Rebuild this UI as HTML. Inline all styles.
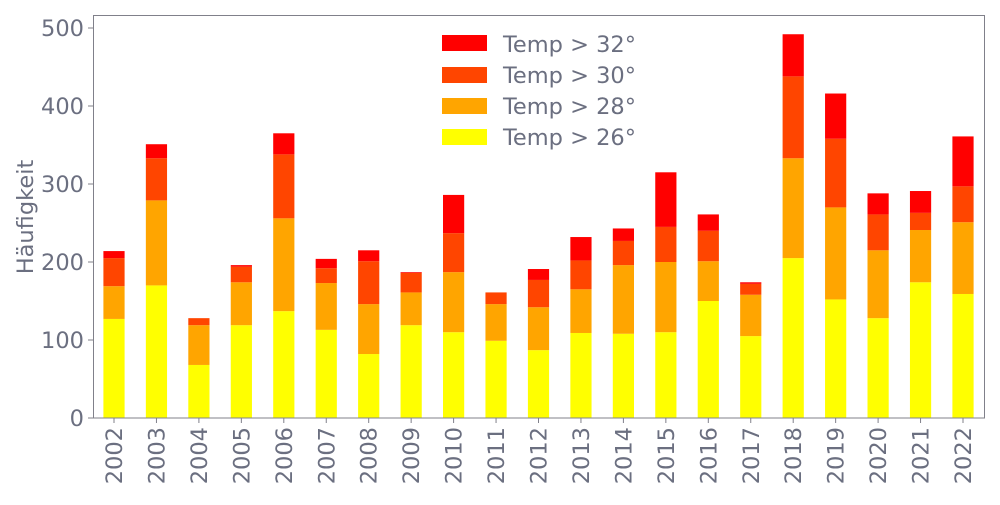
<!DOCTYPE html>
<html><head><meta charset="utf-8"><style>
body{margin:0;background:#fff}
svg text{font-family:"DejaVu Sans","Liberation Sans",sans-serif;fill:#6b6f80}
</style></head><body>
<svg width="1000" height="500" viewBox="0 0 1000 500" xmlns="http://www.w3.org/2000/svg">
<g id="bars"></g>
<rect x="93.5" y="15.5" width="891" height="402.5" fill="none" stroke="#80808a" stroke-width="1"/>
<g id="ax" font-size="22.5"></g>
<text transform="translate(33,217) rotate(-90)" text-anchor="middle" font-size="22.5">Häufigkeit</text>
<g font-size="22.5">
<rect x="442" y="35" width="45" height="16" fill="#ff0000"/><text x="503" y="52">Temp &gt; 32°</text>
<rect x="442" y="67" width="45" height="16" fill="#ff4500"/><text x="503" y="83">Temp &gt; 30°</text>
<rect x="442" y="98" width="45" height="16" fill="#ffa500"/><text x="503" y="114">Temp &gt; 28°</text>
<rect x="442" y="129" width="45" height="16" fill="#ffff00"/><text x="503" y="145">Temp &gt; 26°</text>
</g>
<script>
var d=[[127,169,205,214],[170,279,333,351],[68,119,128,128],[119,174,194,196],[137,256,338,365],[113,173,192,204],[82,146,201,215],[119,161,186,187],[110,187,237,286],[99,146,161,161],[87,142,177,191],[109,165,202,232],[108,196,227,243],[110,200,245,315],[150,201,240,261],[105,158,172,174],[205,333,438,492],[152,270,358,416],[128,215,261,288],[174,241,263,291],[159,251,297,361]];
var c=["#ffff00","#ffa500","#ff4500","#ff0000"],ns="http://www.w3.org/2000/svg";
var g=document.getElementById("bars"),ax=document.getElementById("ax");
function Y(v){return 418-v*0.78}
function el(t,a,p,txt){var e=document.createElementNS(ns,t);for(var k in a)e.setAttribute(k,a[k]);if(txt!=null)e.textContent=txt;p.appendChild(e);return e}
d.forEach(function(r,i){var cx=114+i*42.45,prev=0;
r.forEach(function(v,j){el("rect",{x:cx-10.6,y:Y(v),width:21.2,height:Y(prev)-Y(v),fill:c[j]},g);prev=v;});
el("line",{x1:cx,x2:cx,y1:418,y2:423,stroke:"#80808a"},ax);
el("text",{transform:"translate("+(cx+8)+",427) rotate(-90)","text-anchor":"end"},ax,String(2002+i));
});
for(var v=0;v<=500;v+=100){var y=Y(v);
el("line",{x1:88,x2:93,y1:y,y2:y,stroke:"#80808a"},ax);
el("text",{x:84,y:y+8,"text-anchor":"end"},ax,String(v));}
</script>
</svg>
</body></html>
